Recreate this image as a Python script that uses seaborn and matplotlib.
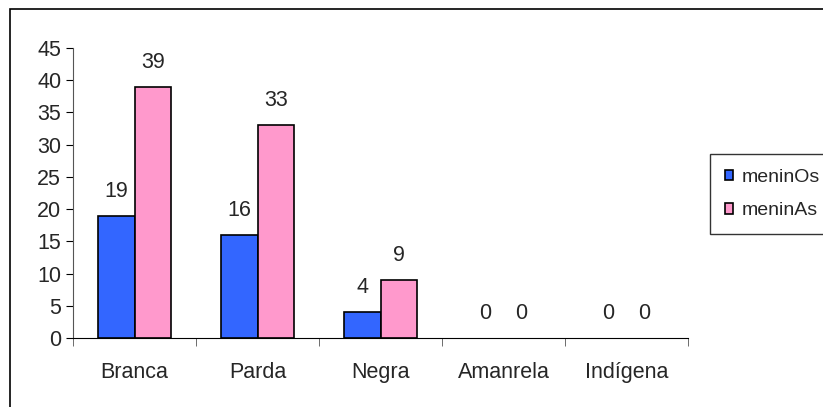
import pandas as pd
import numpy as np
import seaborn as sns
import matplotlib.pyplot as plt
from matplotlib.patches import Rectangle

# data
categories = ['Branca', 'Parda', 'Negra', 'Amanrela', 'Indígena']
meninos = [19, 16, 4, 0, 0]
meninas = [39, 33, 9, 0, 0]
series = ['meninOs', 'meninAs']

df = pd.DataFrame({
    'cat': categories * 2,
    'val': meninos + meninas,
    'serie': [series[0]] * 5 + [series[1]] * 5,
})

sns.set_style('white')
plt.rcParams['font.family'] = ['Liberation Sans', 'DejaVu Sans']
fs = 15.5

fig = plt.figure(figsize=(8.23, 4.07), dpi=100)
ax = fig.add_axes([73 / 823, 69 / 407, 615 / 823, 290 / 407])

sns.barplot(data=df, x='cat', y='val', hue='serie',
            palette=['#3366FF', '#FF99CC'], width=0.59,
            edgecolor='black', linewidth=1.2, saturation=1, ax=ax)

# hide outlines of empty bars
for p in ax.patches:
    if p.get_height() == 0:
        p.set_linewidth(0)

for c in ax.containers:
    ax.bar_label(c, padding=10, fontsize=fs)

ax.set_ylim(0, 45)
ax.set_yticks(range(0, 46, 5))
ax.set_xlim(-0.5, 4.5)
ax.set_xlabel('')
ax.set_ylabel('')
ax.tick_params(axis='both', labelsize=fs, length=5, color='black',
               direction='out', left=True, bottom=False)
ax.set_xticks(np.arange(-0.5, 5, 1), minor=True)
ax.tick_params(axis='x', which='minor', length=6, bottom=True, color='#555555')
ax.tick_params(axis='x', pad=12)
for s in ['top', 'right']:
    ax.spines[s].set_visible(False)
ax.spines['left'].set_color('#555555')
ax.spines['bottom'].set_color('black')

leg = ax.legend(loc='center left', bbox_to_anchor=(710 / 823, 213 / 407),
                bbox_transform=fig.transFigure, borderaxespad=0,
                fontsize=14, frameon=True,
                fancybox=False, edgecolor='black', handlelength=0.45,
                handleheight=0.45, handletextpad=0.45, borderpad=0.75,
                labelspacing=0.85)
for h in leg.get_patches():
    h.set_edgecolor('black')
    h.set_linewidth(1.2)

# outer chart frame (only top and left edges visible)
fig.add_artist(Rectangle((10 / 823, -0.05), 1.0, 0.05 + 398 / 407,
                         transform=fig.transFigure, fill=False,
                         edgecolor='black', linewidth=1.2))

fig.savefig('out.png', dpi=100)
